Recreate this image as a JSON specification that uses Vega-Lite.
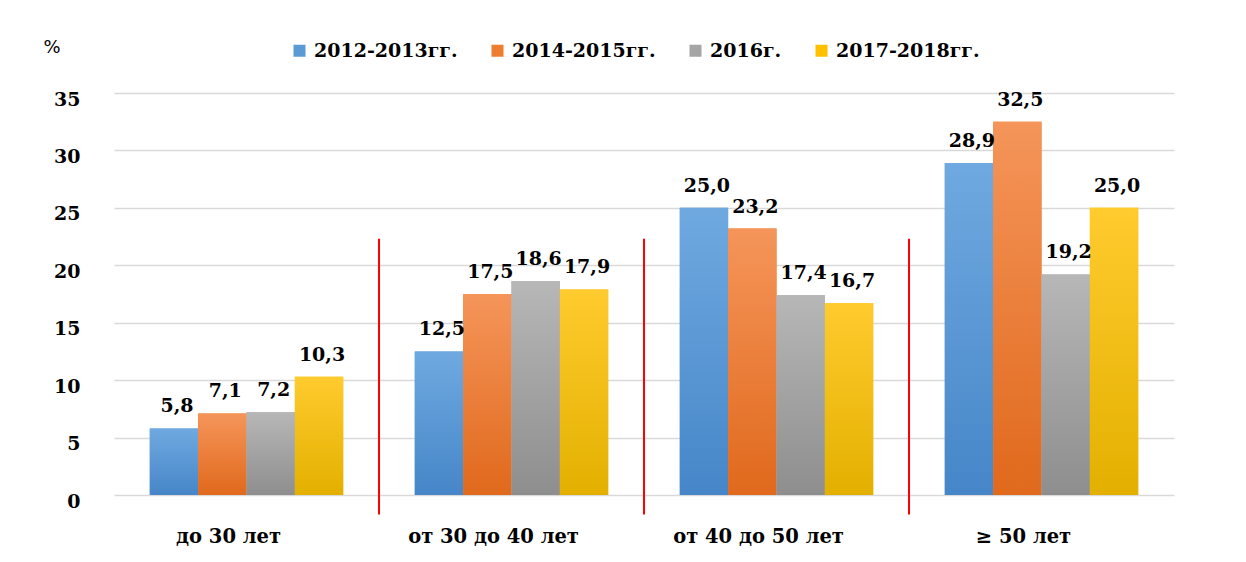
{
  "$schema": "https://vega.github.io/schema/vega-lite/v6.json",
  "width": 1060,
  "height": 402,
  "autosize": {"type": "none"},
  "padding": {"left": 114, "top": 93, "right": 72, "bottom": 67},
  "background": "white",
  "config": {
    "view": {"stroke": null},
    "font": "DejaVu Serif",
    "locale": {"number": {"decimal": ",", "thousands": " ", "grouping": [3], "currency": ["", ""]}}
  },
  "datasets": {
    "bars": [
      {"age": "до 30 лет", "period": "2012-2013гг.", "value": 5.8},
      {"age": "до 30 лет", "period": "2014-2015гг.", "value": 7.1},
      {"age": "до 30 лет", "period": "2016г.", "value": 7.2},
      {"age": "до 30 лет", "period": "2017-2018гг.", "value": 10.3},
      {"age": "от 30 до 40 лет", "period": "2012-2013гг.", "value": 12.5},
      {"age": "от 30 до 40 лет", "period": "2014-2015гг.", "value": 17.5},
      {"age": "от 30 до 40 лет", "period": "2016г.", "value": 18.6},
      {"age": "от 30 до 40 лет", "period": "2017-2018гг.", "value": 17.9},
      {"age": "от 40 до 50 лет", "period": "2012-2013гг.", "value": 25.0},
      {"age": "от 40 до 50 лет", "period": "2014-2015гг.", "value": 23.2},
      {"age": "от 40 до 50 лет", "period": "2016г.", "value": 17.4},
      {"age": "от 40 до 50 лет", "period": "2017-2018гг.", "value": 16.7},
      {"age": "≥ 50 лет", "period": "2012-2013гг.", "value": 28.9},
      {"age": "≥ 50 лет", "period": "2014-2015гг.", "value": 32.5},
      {"age": "≥ 50 лет", "period": "2016г.", "value": 19.2},
      {"age": "≥ 50 лет", "period": "2017-2018гг.", "value": 25.0}
    ],
    "separators": [
      {"age": "до 30 лет"},
      {"age": "от 30 до 40 лет"},
      {"age": "от 40 до 50 лет"}
    ]
  },
  "layer": [
    {
      "data": {"name": "bars"},
      "mark": {"type": "bar"},
      "encoding": {
        "x": {
          "field": "age", "type": "nominal", "sort": null,
          "scale": {"paddingInner": 0.27, "paddingOuter": 0.135},
          "axis": {"title": null, "labelAngle": 0, "domain": false, "ticks": false,
                   "labelPadding": 32, "labelFontSize": 19.5, "labelFontWeight": "bold",
                   "labelColor": "#000", "labelOffset": -18}
        },
        "xOffset": {"field": "period", "type": "nominal", "sort": null},
        "y": {
          "field": "value", "type": "quantitative",
          "scale": {"domain": [0, 35], "nice": false},
          "axis": {"title": "%", "titleAngle": 0, "titleX": -47, "titleY": -37, "titleAlign": "left",
                   "titleFontSize": 18, "titleFontWeight": "normal", "titleFont": "DejaVu Sans",
                   "values": [0, 5, 10, 15, 20, 25, 30, 35],
                   "domain": false, "ticks": false, "offset": 24, "labelPadding": 10, "labelOffset": 6,
                   "labelFontSize": 19, "labelFontWeight": "bold", "labelColor": "#000",
                   "gridColor": "#d9d9d9", "gridWidth": 1.5}
        },
        "color": {
          "field": "period", "type": "nominal", "sort": null,
          "scale": {"range": ["#5b9bd5", "#ed7d31", "#a5a5a5", "#ffc000"]},
          "legend": {"title": null, "orient": "none", "direction": "horizontal",
                     "legendX": 176, "legendY": -52, "symbolType": "square", "symbolSize": 144,
                     "symbolStrokeWidth": 0, "labelFontSize": 19, "labelFontWeight": "bold",
                     "labelColor": "#000", "columnPadding": 30, "labelOffset": 5}
        }
      }
    },
    {
      "data": {"name": "bars"},
      "mark": {"type": "bar"},
      "encoding": {
        "x": {"field": "age", "type": "nominal", "sort": null},
        "xOffset": {"field": "period", "type": "nominal", "sort": null},
        "y": {"field": "value", "type": "quantitative"},
        "fill": {
          "condition": [
            {"test": "datum.period === '2012-2013гг.'", "value": {"gradient": "linear", "x1": 0, "y1": 0, "x2": 0, "y2": 1, "stops": [{"offset": 0, "color": "#6fa9e0"}, {"offset": 1, "color": "#4686c8"}]}},
            {"test": "datum.period === '2014-2015гг.'", "value": {"gradient": "linear", "x1": 0, "y1": 0, "x2": 0, "y2": 1, "stops": [{"offset": 0, "color": "#f5955a"}, {"offset": 1, "color": "#e0691c"}]}},
            {"test": "datum.period === '2016г.'", "value": {"gradient": "linear", "x1": 0, "y1": 0, "x2": 0, "y2": 1, "stops": [{"offset": 0, "color": "#b7b7b7"}, {"offset": 1, "color": "#8e8e8e"}]}}
          ],
          "value": {"gradient": "linear", "x1": 0, "y1": 0, "x2": 0, "y2": 1, "stops": [{"offset": 0, "color": "#ffcb2e"}, {"offset": 1, "color": "#e3b000"}]}
        }
      }
    },
    {
      "data": {"name": "bars"},
      "mark": {"type": "text", "baseline": "bottom", "dy": -12, "dx": 3, "fontSize": 19, "fontWeight": "bold", "color": "#000"},
      "encoding": {
        "x": {"field": "age", "type": "nominal", "sort": null},
        "xOffset": {"field": "period", "type": "nominal", "sort": null},
        "y": {"field": "value", "type": "quantitative"},
        "text": {"field": "value", "type": "quantitative", "format": ".1f"}
      }
    },
    {
      "data": {"name": "separators"},
      "mark": {"type": "rule", "color": "#ff0000", "strokeWidth": 2, "clip": false},
      "encoding": {
        "x": {"field": "age", "type": "nominal", "sort": null, "bandPosition": 1.185},
        "y": {"datum": 22.3},
        "y2": {"datum": -1.7}
      }
    }
  ]
}
